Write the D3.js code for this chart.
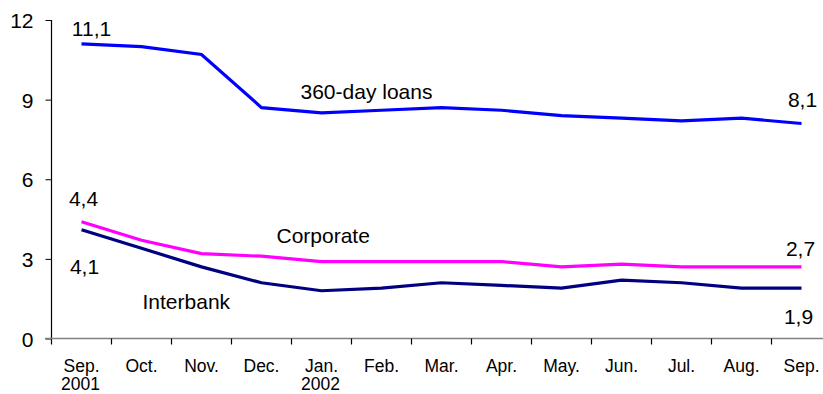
<!DOCTYPE html>
<html>
<head>
<meta charset="utf-8">
<script src="https://cdn.jsdelivr.net/npm/d3@7"></script>
<style>
  html, body { margin: 0; padding: 0; background: #fff; }
  svg { display: block; }
  text { font-family: "Liberation Sans", Arial, sans-serif; fill: #000; }
</style>
</head>
<body>
<svg id="chart" width="823" height="394"></svg>
<script>
// Monthly categories, Sep. 2001 – Sep. 2002
const months = ["Sep.", "Oct.", "Nov.", "Dec.", "Jan.", "Feb.", "Mar.", "Apr.", "May.", "Jun.", "Jul.", "Aug.", "Sep."];
const years  = ["2001", "", "", "", "2002", "", "", "", "", "", "", "", ""];

// Interest rates, %
const loans360  = [11.1, 11.0, 10.7, 8.7, 8.5, 8.6, 8.7, 8.6, 8.4, 8.3, 8.2, 8.3, 8.1];
const corporate = [4.4, 3.7, 3.2, 3.1, 2.9, 2.9, 2.9, 2.9, 2.7, 2.8, 2.7, 2.7, 2.7];
const interbank = [4.1, 3.4, 2.7, 2.1, 1.8, 1.9, 2.1, 2.0, 1.9, 2.2, 2.1, 1.9, 1.9];

const yTicks = [0, 3, 6, 9, 12];

const svg = d3.select("#chart");

const x = d3.scaleBand().domain(d3.range(months.length)).range([51.5, 831.5]);
const cx = i => x(i) + x.bandwidth() / 2;
const y = d3.scaleLinear().domain([0, 12]).range([338.5, 20]);

// Y axis
const yAxis = svg.append("g")
  .attr("transform", "translate(51.5,0)")
  .call(d3.axisLeft(y).tickValues(yTicks).tickSize(6).tickPadding(12).tickFormat(d3.format("d")));
yAxis.select(".domain").attr("stroke", "#000").attr("stroke-width", 1.2).attr("d", "M0,20V344.5");
yAxis.selectAll(".tick line").attr("stroke", "#000");
yAxis.selectAll(".tick text").style("font-size", "21px").attr("dy", "0.36em");

// X axis: gray baseline, black ticks between months
const xg = svg.append("g").attr("transform", `translate(0,${y(0)})`);
xg.append("line").attr("x1", 45).attr("x2", 823).attr("y1", 0).attr("y2", 0)
  .attr("stroke", "#808080").attr("stroke-width", 1.6);
xg.selectAll("line.tick").data(d3.range(1, months.length)).join("line")
  .attr("class", "tick")
  .attr("x1", i => x(i)).attr("x2", i => x(i))
  .attr("y1", 0).attr("y2", 6).attr("stroke", "#000").attr("stroke-width", 1.2);
const xl = xg.selectAll("text.lab").data(d3.range(months.length)).join("text")
  .attr("class", "lab")
  .attr("text-anchor", "middle")
  .style("font-size", "17.5px");
xl.append("tspan").attr("x", i => cx(i)).attr("y", 33).text(i => months[i]);
xl.append("tspan").attr("x", i => cx(i) - 1).attr("y", 51.5).text(i => years[i]);

// Series lines
const series = [
  { name: "360-day loans", values: loans360,  color: "#0000FF" },
  { name: "Corporate",     values: corporate, color: "#FF00FF" },
  { name: "Interbank",     values: interbank, color: "#000080" }
];
const line = d3.line().x((d, i) => cx(i)).y(d => y(d));
svg.selectAll("path.series").data(series).join("path")
  .attr("class", "series")
  .attr("fill", "none")
  .attr("stroke", s => s.color)
  .attr("stroke-width", 3.2)
  .attr("stroke-linejoin", "miter")
  .attr("d", s => line(s.values));

// First/last value labels
const fmt = v => d3.format(".1f")(v).replace(".", ",");
const valueLabels = [
  { s: loans360,  i: 0,  dx: 10,  dy: -8 },
  { s: loans360,  i: 12, dx: 1,   dy: -17 },
  { s: corporate, i: 0,  dx: 2,   dy: -16 },
  { s: corporate, i: 12, dx: -1,  dy: -11 },
  { s: interbank, i: 0,  dx: 3,   dy: 44 },
  { s: interbank, i: 12, dx: -3,  dy: 36 }
];
svg.selectAll("text.val").data(valueLabels).join("text")
  .attr("class", "val")
  .attr("text-anchor", "middle")
  .style("font-size", "21px")
  .attr("x", d => cx(d.i) + d.dx)
  .attr("y", d => y(d.s[d.i]) + d.dy)
  .text(d => fmt(d.s[d.i]));

// Series names
const nameLabels = [
  { text: "360-day loans", i: 4, v: 9, dx: -21, dy: -1 },
  { text: "Corporate",     i: 4, v: 3.6, dx: -45, dy: 0 },
  { text: "Interbank",     i: 1, v: 1.1, dx: 1,  dy: 0 }
];
svg.selectAll("text.name").data(nameLabels).join("text")
  .attr("class", "name")
  .style("font-size", "21px")
  .attr("x", d => cx(d.i) + d.dx)
  .attr("y", d => y(d.v) + d.dy)
  .text(d => d.text);
</script>
</body>
</html>
